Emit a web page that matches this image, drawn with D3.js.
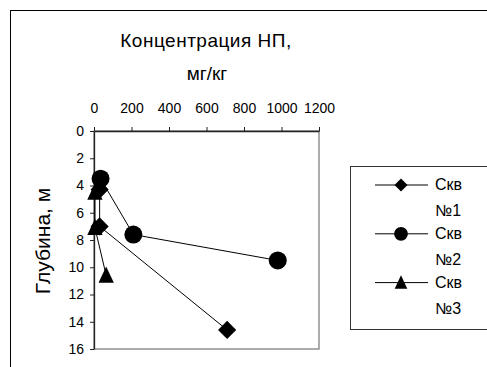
<!DOCTYPE html>
<html>
<head>
<meta charset="utf-8">
<script src="https://cdn.jsdelivr.net/npm/d3@7"></script>
<style>
  html, body { margin: 0; padding: 0; background: #fff; }
  svg { display: block; font-family: "Liberation Sans", Arial, sans-serif; }
</style>
</head>
<body>
<svg id="chart" width="487" height="367"></svg>
<script>
// ---- data ----
const seriesNames = ["Скв №1", "Скв №2", "Скв №3"];
const series1 = [ {c: 30, d: 4.3}, {c: 30, d: 7.0}, {c: 710, d: 14.6} ];
const series2 = [ {c: 35, d: 3.5}, {c: 210, d: 7.6}, {c: 980, d: 9.5} ];
const series3 = [ {c: 5, d: 4.5}, {c: 5, d: 7.1}, {c: 65, d: 10.6} ];
const xTicks = [0, 200, 400, 600, 800, 1000, 1200];
const yTicks = [0, 2, 4, 6, 8, 10, 12, 14, 16];
const titleLines = ["Концентрация НП,", "мг/кг"];
const yTitle = "Глубина, м";

// custom symbols: square diamond and a slightly tall triangle
const symDiamond = { draw(ctx, size) {
  const h = Math.sqrt(size / 2);
  ctx.moveTo(0, -h); ctx.lineTo(h, 0); ctx.lineTo(0, h); ctx.lineTo(-h, 0); ctx.closePath();
}};
const symTriangle = { draw(ctx, size) {
  const w = Math.sqrt(size * 2 / 1.07); const hgt = w * 1.07;
  ctx.moveTo(0, -hgt * 0.55); ctx.lineTo(w / 2, hgt * 0.45); ctx.lineTo(-w / 2, hgt * 0.45); ctx.closePath();
}};

const allSeries = [
  {name: seriesNames[0], values: series1, symbol: symDiamond},
  {name: seriesNames[1], values: series2, symbol: d3.symbolCircle},
  {name: seriesNames[2], values: series3, symbol: symTriangle}
];

const svg = d3.select("#chart");
svg.append("rect").attr("width", 487).attr("height", 367).attr("fill", "#fff");
svg.append("rect").attr("x", 10.5).attr("y", 10.5).attr("width", 600).attr("height", 500)
  .attr("fill", "none").attr("stroke", "#000").attr("stroke-width", 1);

const L = 94, R = 319, T = 131, B = 349;
const x = d3.scaleLinear().domain([0, 1200]).range([L, R]);
const y = d3.scaleLinear().domain([0, 16]).range([T, B]);

svg.append("rect").attr("x", L).attr("y", T).attr("width", R - L).attr("height", B - T)
  .attr("fill", "none").attr("stroke", "#808080").attr("stroke-width", 1.3);

const gx = svg.append("g").attr("transform", `translate(0,${T})`)
  .call(d3.axisTop(x).tickValues(xTicks).tickFormat(d3.format("d")).tickSize(4).tickPadding(14).tickSizeOuter(0));
const gy = svg.append("g").attr("transform", `translate(${L},0)`)
  .call(d3.axisLeft(y).tickValues(yTicks).tickFormat(d3.format("d")).tickSize(4).tickPadding(6).tickSizeOuter(0));
[gx, gy].forEach(g => {
  g.select(".domain").attr("stroke", "#222").attr("stroke-width", 1.3);
  g.selectAll(".tick line").attr("stroke", "#222");
  g.selectAll(".tick text").attr("fill", "#000").style("font-size", "14px")
    .style("font-family", "'Liberation Sans', Arial, sans-serif");
});

svg.append("text").attr("x", 206).attr("y", 47).attr("text-anchor", "middle")
  .style("font-size", "19px").attr("letter-spacing", "0.5").text(titleLines[0]);
svg.append("text").attr("x", 207).attr("y", 80).attr("text-anchor", "middle")
  .style("font-size", "19px").text(titleLines[1]);

svg.append("text").attr("transform", "translate(50,241) rotate(-90)")
  .attr("text-anchor", "middle").style("font-size", "21px").text(yTitle);

const line = d3.line().x(d => x(d.c)).y(d => y(d.d));
const sizes = {0: 165, 1: 255, 2: 125};
allSeries.forEach((s) => {
  svg.append("path").datum(s.values).attr("d", line)
    .attr("fill", "none").attr("stroke", "#000").attr("stroke-width", 1);
});
allSeries.forEach((s, i) => {
  svg.selectAll(null).data(s.values).enter().append("path")
    .attr("transform", d => `translate(${x(d.c)},${y(d.d)})`)
    .attr("d", d3.symbol().type(s.symbol).size(sizes[i]))
    .attr("fill", "#000");
});

svg.append("rect").attr("x", 350.5).attr("y", 166.5).attr("width", 200).attr("height", 163)
  .attr("fill", "#fff").attr("stroke", "#333").attr("stroke-width", 1);
const legSizes = {0: 85, 1: 150, 2: 85};
allSeries.forEach((s, i) => {
  const ly = 185 + i * 48.8;
  svg.append("line").attr("x1", 375).attr("x2", 428).attr("y1", ly).attr("y2", ly)
    .attr("stroke", "#000").attr("stroke-width", 1);
  svg.append("path").attr("transform", `translate(401,${ly})`)
    .attr("d", d3.symbol().type(s.symbol).size(legSizes[i])).attr("fill", "#000");
  const parts = s.name.split(" ");
  svg.append("text").attr("x", 435).attr("y", ly + 5).style("font-size", "16px").text(parts[0]);
  svg.append("text").attr("x", 435).attr("y", ly + 31).style("font-size", "16px").text(parts[1]);
});
</script>
</body>
</html>
